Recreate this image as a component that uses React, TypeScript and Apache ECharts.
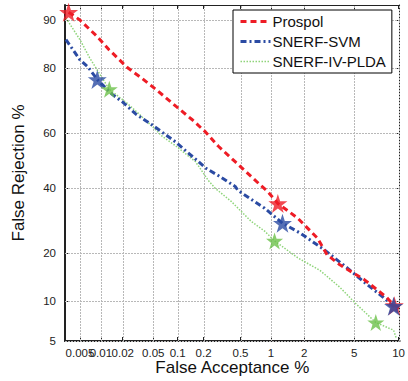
import React, { useEffect, useRef } from "react";
import * as echarts from "echarts";

// Tick labels (percent)
const xTickLabels = [0.005, 0.01, 0.02, 0.05, 0.1, 0.2, 0.5, 1, 2, 5, 10];
const yTickLabels = [5, 10, 20, 40, 60, 80, 90];

// Prospol curve (False Acceptance %, False Rejection %)
const prospolFA = [0.0034, 0.005, 0.0087, 0.013, 0.023, 0.036, 0.054, 0.095, 0.146, 0.21, 0.29, 0.44, 0.8, 0.93, 1.16, 1.75, 2.58, 3.1, 3.9, 5.9, 8.4, 9.4, 10.1];
const prospolFR = [91.2, 90, 87.2, 84.4, 80.2, 77.3, 74.2, 69, 64.7, 60.3, 55.3, 49.6, 41, 38.9, 34.8, 30, 24, 19.5, 17.1, 13.9, 10.6, 9.3, 9.0];

// SNERF-SVM curve
const svmFA = [0.0031, 0.005, 0.0065, 0.0089, 0.0144, 0.02, 0.03, 0.047, 0.064, 0.094, 0.124, 0.175, 0.215, 0.29, 0.44, 0.47, 0.87, 1.28, 1.85, 2.94, 4.43, 6.2, 8.0, 9.3, 10.1];
const svmFR = [86.5, 82.1, 80.4, 77, 72.7, 70.3, 66.4, 63, 60.3, 56.8, 53.6, 49.6, 47.1, 44.6, 40.7, 39.3, 33.2, 28.4, 25.4, 20.8, 16.4, 12.9, 10.6, 9.2, 8.6];

// SNERF-IV-PLDA curve
const pldaFA = [0.0031, 0.005, 0.0069, 0.0131, 0.022, 0.033, 0.048, 0.064, 0.095, 0.162, 0.226, 0.27, 0.4, 0.64, 0.87, 1.08, 1.75, 2.72, 3.9, 5.2, 7.1, 9.3, 9.7];
const pldaFR = [90.3, 86.5, 82.6, 74.2, 70.3, 66.4, 62.4, 58.9, 55.3, 49.6, 42.8, 40, 35.5, 29, 26, 23.2, 18.8, 15.8, 12.4, 9.5, 7.0, 6.1, 5.2];

// Operating-point stars
const prospolStarFA = [0.0034, 1.16, 9.4];
const prospolStarFR = [91.2, 34.8, 9.3];
const svmStarFA = [0.0089, 1.28, 9.3];
const svmStarFR = [77, 28.4, 9.2];
const pldaStarFA = [0.0131, 1.08, 7.1];
const pldaStarFR = [74.2, 23.2, 7.0];

const names = ["Prospol", "SNERF-SVM", "SNERF-IV-PLDA"];
const colors = ["#ee1c25", "#2b4ba3", "#6cc04a"];
const lineColors = ["#ee1c25", "#2b4ba3", "#8fd47a"];
const lineWidths = [3, 3, 1.5];
const lineDashes = [[6, 4], [6, 3, 2, 3], [1.5, 1.5]];

function probit(p: number): number {
  const a = [-3.969683028665376e1, 2.209460984245205e2, -2.759285104469687e2, 1.38357751867269e2, -3.066479806614716e1, 2.506628277459239];
  const b = [-5.447609879822406e1, 1.615858368580409e2, -1.556989798598866e2, 6.680131188771972e1, -1.328068155288572e1];
  const c = [-7.784894002430293e-3, -3.223964580411365e-1, -2.400758277161838, -2.549732539343734, 4.374664141464968, 2.938163982698783];
  const d = [7.784695709041462e-3, 3.224671290700398e-1, 2.445134137142996, 3.754408661907416];
  const plow = 0.02425;
  if (p < plow) {
    const q = Math.sqrt(-2 * Math.log(p));
    return (((((c[0] * q + c[1]) * q + c[2]) * q + c[3]) * q + c[4]) * q + c[5]) / ((((d[0] * q + d[1]) * q + d[2]) * q + d[3]) * q + 1);
  } else if (p <= 1 - plow) {
    const q = p - 0.5;
    const r = q * q;
    return ((((((a[0] * r + a[1]) * r + a[2]) * r + a[3]) * r + a[4]) * r + a[5]) * q) / (((((b[0] * r + b[1]) * r + b[2]) * r + b[3]) * r + b[4]) * r + 1);
  } else {
    const q = Math.sqrt(-2 * Math.log(1 - p));
    return -(((((c[0] * q + c[1]) * q + c[2]) * q + c[3]) * q + c[4]) * q + c[5]) / ((((d[0] * q + d[1]) * q + d[2]) * q + d[3]) * q + 1);
  }
}

const pr = (v: number) => probit(v / 100);
const pairs = (xs: number[], ys: number[]) => xs.map((x, i) => [pr(x), pr(ys[i])]);

const xTickVals = xTickLabels.map(pr);
const yTickVals = yTickLabels.map(pr);
const labelFor = (labels: number[], vals: number[]) => (v: number) => {
  for (let i = 0; i < vals.length; i++) if (Math.abs(vals[i] - v) < 1e-6) return String(labels[i]);
  return "";
};

const STAR = "path://M50,0 L61.8,35.3 L99,35.3 L69,57.4 L80.4,93 L50,71.1 L19.6,93 L31,57.4 L1,35.3 L38.2,35.3 Z";

const FONT = "'Liberation Sans', Arial, sans-serif";

export default function App() {
  const ref = useRef<HTMLDivElement>(null);
  useEffect(() => {
    if (!ref.current) return;
    const chart = echarts.init(ref.current, undefined, { renderer: "svg" });
    const xMin = pr(0.003);
    const xMax = pr(10.15);
    const yMin = pr(5);
    const yMax = pr(92.2);
    const tickStyle = { inside: true, length: 4, lineStyle: { color: "#222", width: 1 } };
    const baseX = { type: "value" as const, min: xMin, max: xMax, splitLine: { show: false } };
    const baseY = { type: "value" as const, min: yMin, max: yMax, splitLine: { show: false } };
    const labelStyle = { fontSize: 11.5, color: "#222", fontFamily: FONT };
    const fmtX = labelFor(xTickLabels, xTickVals);

    // light grid at every tick, drawn through the axes' scales
    const gridData = [
      ...xTickVals.map((v) => [v, 0]),
      ...yTickVals.map((v) => [v, 1]),
    ];
    const gridSeries = {
      name: "grid",
      type: "custom",
      data: gridData,
      encode: { x: -1, y: -1 },
      silent: true,
      clip: false,
      z: 1,
      renderItem: (_params: any, api: any) => {
        const v = api.value(0);
        const vertical = api.value(1) === 0;
        const p1 = vertical ? api.coord([v, yMin]) : api.coord([xMin, v]);
        const p2 = vertical ? api.coord([v, yMax]) : api.coord([xMax, v]);
        const snap = (n: number) => Math.round(n) + 0.5;
        const shape = vertical
          ? { x1: snap(p1[0]), y1: p1[1], x2: snap(p2[0]), y2: p2[1] }
          : { x1: p1[0], y1: snap(p1[1]), x2: p2[0], y2: snap(p2[1]) };
        return {
          type: "line",
          shape,
          style: { stroke: "#b8b8b8", lineWidth: 1, lineDash: [2, 1], fill: null, opacity: 1 },
        };
      },
    };

    const lineSeries = [
      pairs(prospolFA, prospolFR),
      pairs(svmFA, svmFR),
      pairs(pldaFA, pldaFR),
    ].map((data, i) => ({
      name: names[i],
      type: "line",
      data,
      showSymbol: false,
      symbol: "none",
      color: lineColors[i],
      lineStyle: { width: lineWidths[i], type: lineDashes[i], color: lineColors[i] },
      z: 5 - i,
    }));
    const stars = [
      pairs(prospolStarFA, prospolStarFR),
      pairs(svmStarFA, svmStarFR),
      pairs(pldaStarFA, pldaStarFR),
    ].map((d, i) => ({
      name: names[i] + " stars",
      type: "scatter",
      data: d,
      symbol: STAR,
      symbolSize: i === 2 ? 17 : 19,
      itemStyle: { color: colors[i] },
      z: 10,
    }));

    // x labels are split over several label-only axes so that the crowded
    // first labels are all kept (as in the reference, where they touch)
    const labelGroups = [xTickVals.slice(0, 1), xTickVals.slice(1, 2), xTickVals.slice(2)];
    const labelAxes = labelGroups.map((vals) => ({
      ...baseX,
      position: "bottom",
      axisLine: { show: false, onZero: false },
      axisTick: { show: false },
      axisLabel: { ...labelStyle, customValues: vals, formatter: fmtX, margin: 6, hideOverlap: false, showMinLabel: true, showMaxLabel: true },
    }));

    chart.setOption({
      animation: false,
      textStyle: { fontFamily: FONT },
      grid: { left: 65, right: 5, top: 5, bottom: 38, show: false },
      legend: {
        data: names.map((n, i) => ({
          name: n,
          itemStyle: { color: "rgba(0,0,0,0)", borderWidth: 0, opacity: 0 },
          lineStyle: { color: lineColors[i], width: lineWidths[i], type: lineDashes[i], opacity: 1 },
        })),
        orient: "vertical",
        left: 233,
        top: 10,
        width: 167,
        padding: [4, 6, 4, 6],
        itemGap: 5,
        itemWidth: 30,
        itemHeight: 14,
        backgroundColor: "#fff",
        borderColor: "#000",
        borderWidth: 1,
        borderRadius: 0,
        z: 20,
        textStyle: { fontSize: 15, color: "#111", fontFamily: FONT, padding: [0, 0, 0, -3] },
      },
      xAxis: [
        {
          ...baseX,
          position: "bottom",
          name: "False Acceptance %",
          nameLocation: "middle",
          nameGap: 18,
          nameTextStyle: { fontSize: 17, color: "#111", fontFamily: FONT },
          axisLine: { show: true, onZero: false, lineStyle: { color: "#222", width: 2 } },
          axisTick: { ...tickStyle, customValues: xTickVals },
          axisLabel: { show: false },
        },
        {
          ...baseX,
          position: "top",
          axisLine: { show: true, onZero: false, lineStyle: { color: "#222", width: 1 } },
          axisTick: { ...tickStyle, customValues: xTickVals },
          axisLabel: { show: false },
        },
        ...labelAxes,
      ],
      yAxis: [
        {
          ...baseY,
          position: "left",
          name: "False Rejection %",
          nameLocation: "middle",
          nameGap: 38,
          nameTextStyle: { fontSize: 17, color: "#111", fontFamily: FONT },
          axisLine: { show: true, onZero: false, lineStyle: { color: "#222", width: 2 } },
          axisTick: { ...tickStyle, customValues: yTickVals },
          axisLabel: { ...labelStyle, customValues: yTickVals, formatter: labelFor(yTickLabels, yTickVals), margin: 9, showMinLabel: true, showMaxLabel: true },
        },
        {
          ...baseY,
          position: "right",
          axisLine: { show: true, onZero: false, lineStyle: { color: "#222", width: 1 } },
          axisTick: { ...tickStyle, customValues: yTickVals },
          axisLabel: { show: false },
        },
      ],
      series: [gridSeries, ...lineSeries, ...stars],
    });
    return () => chart.dispose();
  }, []);
  return <div ref={ref} style={{ position: "absolute", left: 0, top: 0, width: 408, height: 381 }} />;
}
